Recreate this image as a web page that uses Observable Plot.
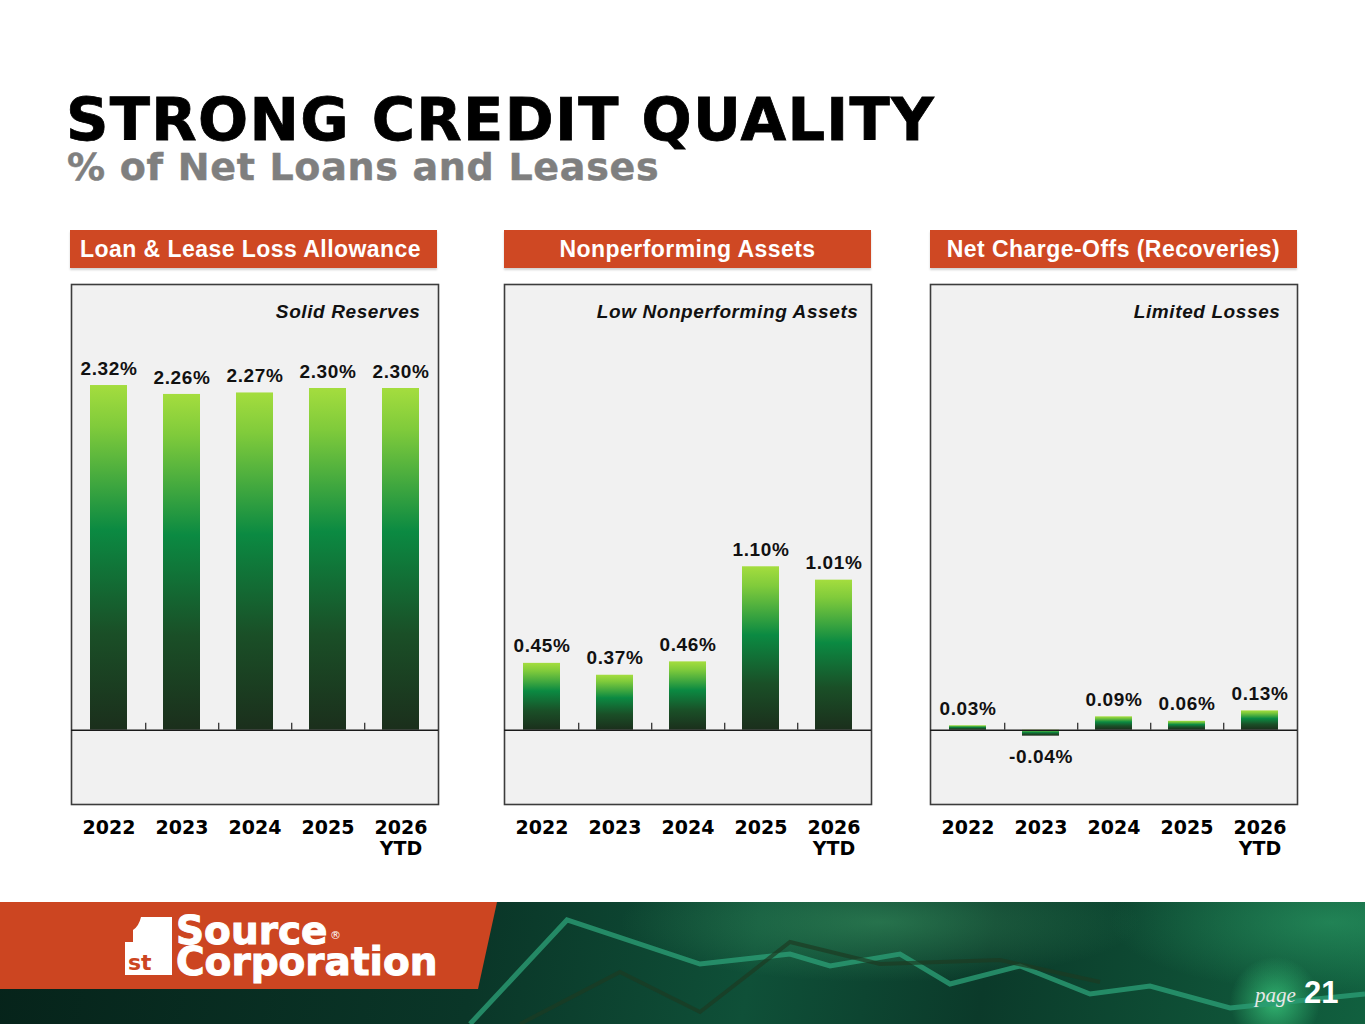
<!DOCTYPE html>
<html><head><meta charset="utf-8">
<script src="https://cdn.jsdelivr.net/npm/d3@7"></script>
<script src="https://cdn.jsdelivr.net/npm/@observablehq/plot@0.6"></script>
<style>
body{margin:0;width:1365px;height:1024px;position:relative;overflow:hidden;background:#fff;font-family:"Liberation Sans",Arial,sans-serif;}
.hdr{position:absolute;top:230px;height:38px;width:367px;background:#cf4823;color:#fff;font-weight:bold;font-size:23px;letter-spacing:0.45px;line-height:39px;box-shadow:0 2px 2px rgba(0,0,0,0.18);white-space:nowrap;}
.panel{position:absolute;top:280px;}
#footer{position:absolute;left:0;top:902px;width:1365px;height:122px;
 background:
  radial-gradient(circle at 1275px 100px, rgba(60,210,130,0.75) 0, rgba(60,210,130,0) 45px),
  radial-gradient(ellipse 260px 60px at 880px 20px, rgba(70,170,110,0.45), rgba(70,170,110,0)),
  radial-gradient(ellipse 220px 70px at 1330px 20px, rgba(50,170,110,0.5), rgba(50,170,110,0)),
  linear-gradient(100deg,#06231a 0%,#0a3628 35%,#0f5038 55%,#0b3a2a 72%,#11603f 100%);}
#orange{position:absolute;left:0;top:902px;width:500px;height:87px;background:#cc4521;clip-path:polygon(0 0,497px 0,478px 87px,0 87px);}
</style></head>
<body>
<svg style="position:absolute;left:0;top:0" width="1365" height="200">
 <text font-family="DejaVu Sans" font-weight="bold"><tspan x="66" y="140" font-size="59" letter-spacing="1.3" fill="#000" stroke="#000" stroke-width="0.8">STRONG CREDIT QUALITY</tspan><tspan x="67" y="180" font-size="38" letter-spacing="0.7" fill="#7f7f7f" stroke="#7f7f7f" stroke-width="0.5">% of Net Loans and Leases</tspan></text>
</svg>
<div class="hdr" style="left:70px;padding-left:10px;width:357px;">Loan &amp; Lease Loss Allowance</div>
<div class="hdr" style="left:504px;text-align:center;">Nonperforming Assets</div>
<div class="hdr" style="left:930px;text-align:center;">Net Charge-Offs (Recoveries)</div>
<div class="panel" id="p1" style="left:56px"></div>
<div class="panel" id="p2" style="left:489px"></div>
<div class="panel" id="p3" style="left:915px"></div>
<div id="footer"></div>
<svg style="position:absolute;left:0;top:902px" width="1365" height="122">
 <polyline points="470,122 567,18 700,62 790,52 830,64 900,52 950,82 1020,64 1090,92 1150,84 1230,106 1365,92" fill="none" stroke="#2a9c74" stroke-width="5" opacity="0.8"/>
 <polyline points="520,122 620,70 700,110 790,40 880,62 1000,58 1100,80" fill="none" stroke="#1d3a22" stroke-width="4" opacity="0.7"/>
</svg>
<div id="orange"></div>
<svg style="position:absolute;left:0;top:902px" width="1365" height="122">
 <path d="M141,15 L172,15 L172,73 L125,73 L125,40 L133,40 L133,28 Q139,24 141,15 Z" fill="#fff"/>
 <text font-family="DejaVu Sans" font-weight="bold" fill="#fff"><tspan x="128" y="68" font-size="22" fill="#cc4521">st</tspan><tspan x="176" y="42" font-size="39" stroke="#fff" stroke-width="1">Source</tspan><tspan x="330" y="37" font-size="11" font-weight="normal">®</tspan><tspan x="176" y="73" font-size="39" stroke="#fff" stroke-width="1">Corporation</tspan></text>
 <text font-family="Liberation Sans" fill="#fff"><tspan x="1255" y="100" font-family="Liberation Serif" font-style="italic" font-size="21" fill="#e8e8e8">page</tspan><tspan x="1304" y="101" font-weight="bold" font-size="31">21</tspan></text>
</svg>
<script>
// ---- data ----
const years = ["2022", "2023", "2024", "2025", "2026"];
const yearLabels = ["2022", "2023", "2024", "2025", "2026\nYTD"];
const allowance = [2.32, 2.26, 2.27, 2.30, 2.30];
const nonperforming = [0.45, 0.37, 0.46, 1.10, 1.01];
const chargeOffs = [0.03, -0.04, 0.09, 0.06, 0.13];
const notes = ["Solid Reserves", "Low Nonperforming Assets", "Limited Losses"];
const yDomain = [-0.5, 3.0];

const W = 397, ML = 15, MR = 15, MT = 4, PH = 520, MB = 70;
const step = (W - ML - MR) / years.length;
const tickLen = 7 * (yDomain[1] - yDomain[0]) / PH;

function addGradient(svg, id) {
  const ns = "http://www.w3.org/2000/svg";
  const defs = document.createElementNS(ns, "defs");
  const g = document.createElementNS(ns, "linearGradient");
  g.setAttribute("id", id);
  g.setAttribute("x1", "0"); g.setAttribute("y1", "0");
  g.setAttribute("x2", "0"); g.setAttribute("y2", "1");
  [[0, "#a4dd3e"], [0.12, "#80cb3b"], [0.42, "#0b8a42"], [0.72, "#1a4f27"], [1, "#1b2f1c"]].forEach(([o, c]) => {
    const s = document.createElementNS(ns, "stop");
    s.setAttribute("offset", o); s.setAttribute("stop-color", c);
    g.appendChild(s);
  });
  defs.appendChild(g);
  svg.insertBefore(defs, svg.firstChild);
}

function panel(values, note, noteDx, el, gid) {
  const data = years.map((y, i) => ({year: y, value: values[i]}));
  const chart = Plot.plot({
    width: W, height: MT + PH + MB,
    marginLeft: ML, marginRight: MR, marginTop: MT, marginBottom: MB,
    style: {background: "transparent", fontFamily: "Liberation Sans, Arial, sans-serif", color: "#111", overflow: "visible"},
    x: {domain: years, paddingInner: 0.5, paddingOuter: 0.25, label: null},
    y: {domain: yDomain, axis: null},
    marks: [
      Plot.frame({fill: "#f1f1f1", stroke: "#3c3c3c", strokeWidth: 1.6}),
      Plot.barY(data, {x: "year", y1: 0, y2: "value", fill: `url(#${gid})`}),
      Plot.ruleY([0], {stroke: "#1a1a1a", strokeWidth: 1.5}),
      Plot.ruleX(years.slice(0, -1), {x: d => d, y1: 0, y2: tickLen, dx: step / 2, stroke: "#333", strokeWidth: 1.3}),
      Plot.text(data.filter(d => d.value >= 0), {x: "year", y: "value", text: d => d.value.toFixed(2) + "%", dy: -17, fontSize: 19, fontWeight: "bold", fill: "#111"}),
      Plot.text(data.filter(d => d.value < 0), {x: "year", y: "value", text: d => d.value.toFixed(2) + "%", dy: 21, fontSize: 19, fontWeight: "bold", fill: "#111"}),
      Plot.text([note], {frameAnchor: "top-right", textAnchor: "end", lineAnchor: "middle", dx: noteDx, dy: 27, fontSize: 19, fontWeight: "bold", fontStyle: "italic", fill: "#111"}),
      Plot.axisX({label: null, tickSize: 0, tickPadding: 15, tickFormat: d => yearLabels[years.indexOf(d)], fontSize: 19, fontWeight: "bold", fontFamily: "DejaVu Sans", lineHeight: 1.1, fill: "#000"})
    ]
  });
  addGradient(chart, gid);
  d3.select(chart).selectAll("text").each(function() {
    const t = this.textContent;
    if (t === note) this.style.letterSpacing = "0.6px";
    else if (t.endsWith("%")) this.style.letterSpacing = "0.6px";
  });
  document.getElementById(el).appendChild(chart);
}

panel(allowance, notes[0], -18, "p1", "g1");
panel(nonperforming, notes[1], -13, "p2", "g2");
panel(chargeOffs, notes[2], -17, "p3", "g3");
</script>
</body></html>
